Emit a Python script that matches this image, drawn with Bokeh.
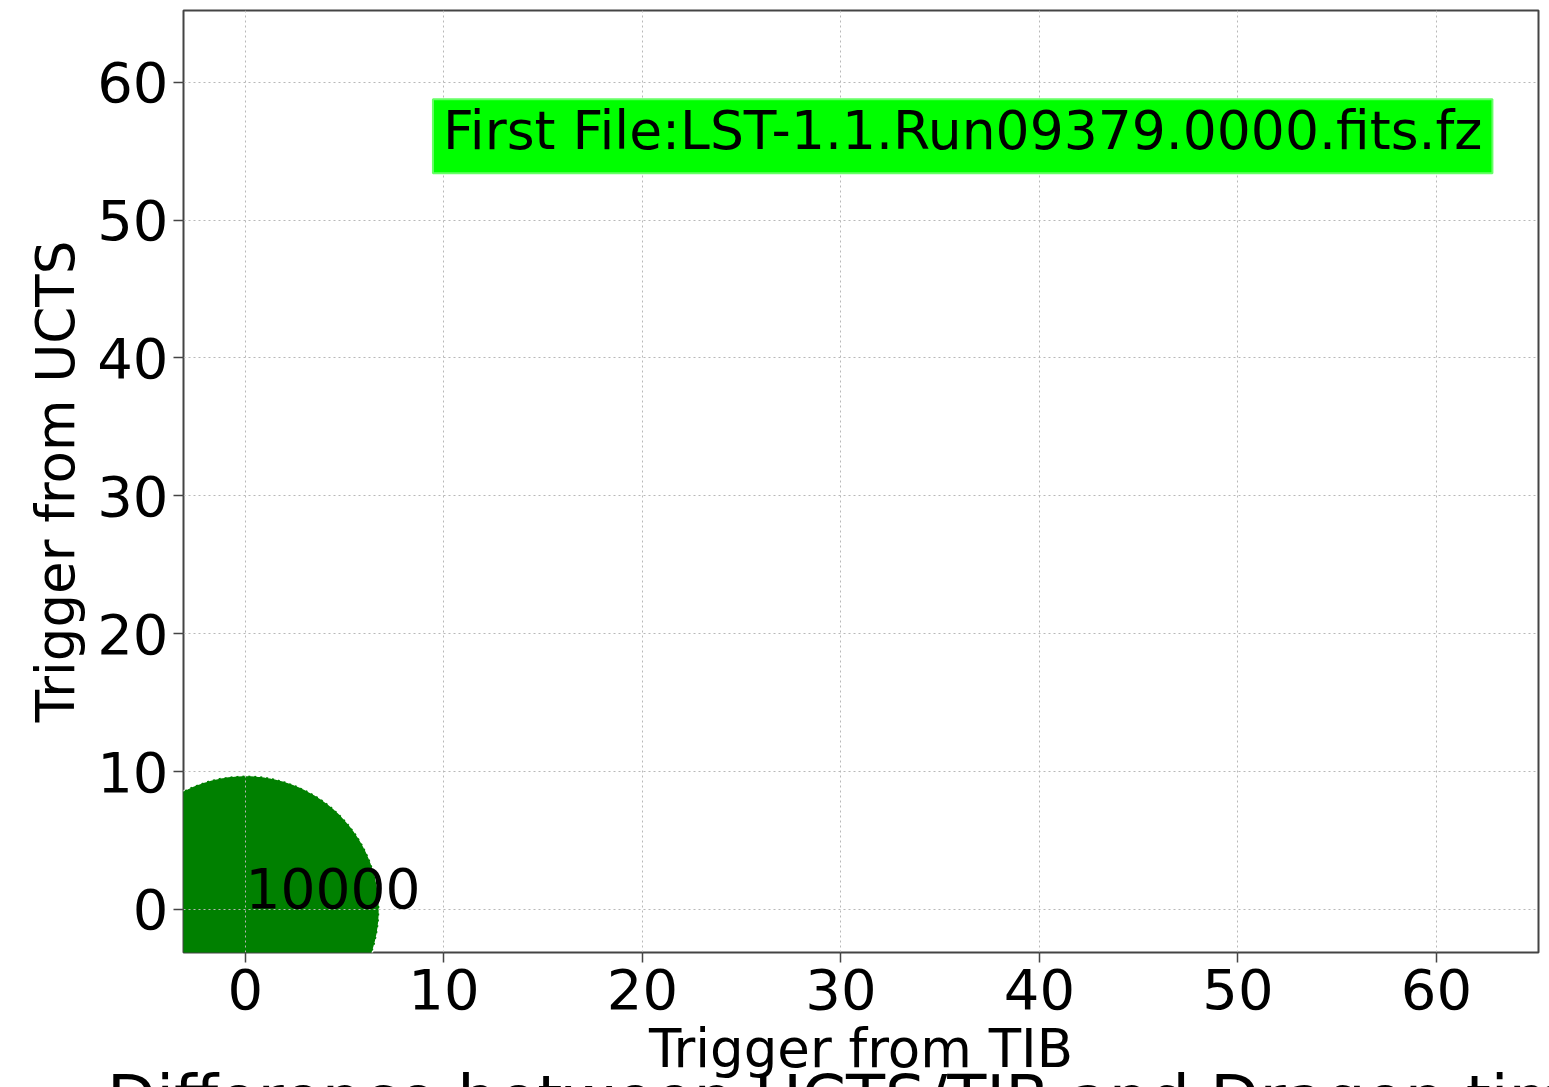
from bokeh.plotting import figure
from bokeh.models import Range1d, FixedTicker, Div
from bokeh.layouts import column
from bokeh.core.properties import value
from bokeh.embed import file_html
from bokeh.resources import INLINE

# ---- data ----
tib_trigger = [0]
ucts_trigger = [0]
counts = ["10000"]
tick_values = [0, 10, 20, 30, 40, 50, 60]
file_label_x = [10]
file_label_y = [55]
file_label_text = ["First File:LST-1.1.Run09379.0000.fits.fz"]
x_title = "Trigger from TIB"
y_title = "Trigger from UCTS"
next_title = "Difference between UCTS/TIB and Dragon times"

FONT = "DejaVu Sans"

p = figure(width=1549, height=1081, output_backend="svg", toolbar_location=None,
           x_range=Range1d(-3.12, 65.14), y_range=Range1d(-3.12, 65.2),
           min_border_left=183, min_border_right=11, min_border_top=10,
           min_border_bottom=129)
p.background_fill_color = "white"
p.border_fill_color = "white"
p.outline_line_color = "#444444"
p.outline_line_width = 2

for ax in (p.xaxis[0], p.yaxis[0]):
    ax.ticker = FixedTicker(ticks=tick_values)
    ax.minor_tick_line_color = None
    ax.major_tick_in = 0
    ax.major_tick_out = 10
    ax.major_tick_line_color = "#444444"
    ax.major_tick_line_width = 1.5
    ax.axis_line_color = None
    ax.major_label_text_font = FONT
    ax.major_label_text_font_size = "56px"
    ax.major_label_text_color = "black"
    ax.axis_label_text_font = FONT
    ax.axis_label_text_font_size = "53px"
    ax.axis_label_text_font_style = "normal"
    ax.axis_label_text_color = "black"

p.xaxis.axis_label = x_title
p.yaxis.axis_label = y_title
p.xaxis.major_label_standoff = 6
p.xaxis.axis_label_standoff = 6
p.yaxis.major_label_standoff = 5
p.yaxis.axis_label_standoff = 8

for g in (p.xgrid[0], p.ygrid[0]):
    g.ticker = FixedTicker(ticks=tick_values)
    g.grid_line_color = "#b8b8b8"
    g.grid_line_dash = "2 3"
    g.grid_line_width = 1
    g.level = "underlay"

circ = p.scatter(x=tib_trigger, y=ucts_trigger, size=268, fill_color="green",
                 line_color="white", line_width=1.5, line_dash="4 2")
circ.level = "image"

p.text(x=tib_trigger, y=ucts_trigger, text=counts, text_font=value(FONT),
       text_font_size="55px", text_align="left", text_baseline="alphabetic",
       y_offset=-21, text_color="black")

p.text(x=file_label_x, y=file_label_y, text=file_label_text, text_font=value(FONT),
       text_font_size="53.5px", text_align="left", text_baseline="alphabetic",
       x_offset=-11, y_offset=-15, text_color="black", background_fill_color="lime",
       border_line_color="#66ff66", border_line_width=2,
       padding=dict(left=10, right=10, top=0, bottom=11))

# heading of the next figure on the page, cut off by the window edge as in the reference
heading = Div(
    text=('<div style="font-family: \'DejaVu Sans\'; font-size: 64px; line-height: 67px; '
          'white-space: nowrap; margin-left: 107px; color: black;">' + next_title + '</div>'),
    width=1549, height=21, margin=(-15, 0, 0, 0),
    styles={"overflow": "hidden"})

layout = column(p, heading, spacing=0)

open("out.html", "w").write(file_html(layout, INLINE))
